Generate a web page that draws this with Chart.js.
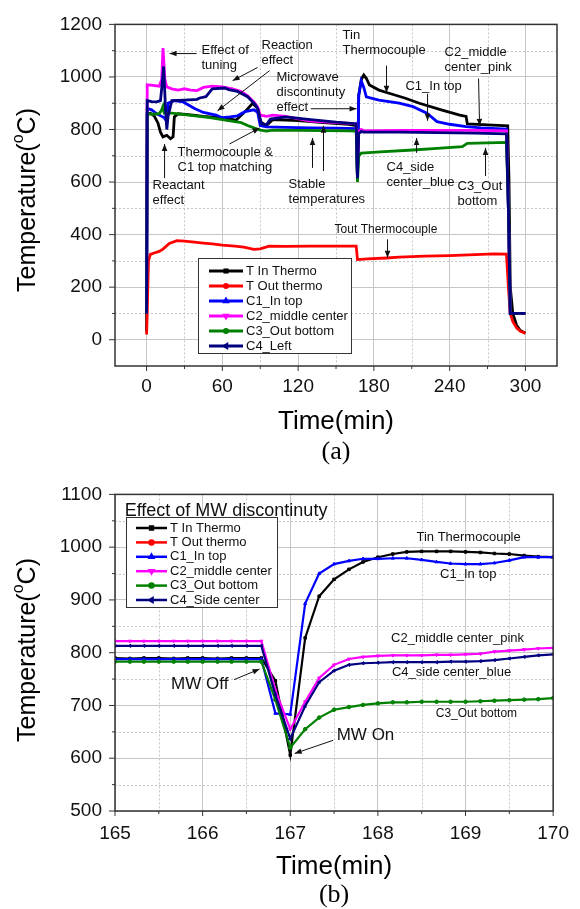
<!DOCTYPE html>
<html>
<head>
<meta charset="utf-8">
<script src="https://cdn.jsdelivr.net/npm/chart.js@4.4.0/dist/chart.umd.min.js"></script>
<style>
  body { margin: 0; background: #fff; width: 580px; height: 909px; overflow: hidden; position: relative; }
  canvas { position: absolute; left: 0; }
  #chartA { top: 0; }
  #chartB { top: 470px; }
</style>
</head>
<body>
<canvas id="chartA" width="580" height="470"></canvas>
<canvas id="chartB" width="580" height="439"></canvas>
<script>
// ---- series names / colours ----
const namesA = ['T In Thermo', 'T Out thermo', 'C1_In top', 'C2_middle center', 'C3_Out bottom', 'C4_Left'];
const namesB = ['T In Thermo', 'T Out thermo', 'C1_In top', 'C2_middle center', 'C3_Out bottom', 'C4_Side center'];
const colors = ['#000000', '#ff0000', '#0000ff', '#ff00ff', '#008000', '#000080'];

// ---- (a) full run, [time(min), temperature] ----
const inThermoA = [[0,30],[0.5,860],[3,862],[6,852],[9,825],[11,790],[13,772],[16,778],[19,765],[21,772],[22,848],[25,860],[35,856],[45,850],[55,846],[65,840],[71,836],[78,868],[84,900],[88,880],[90,830],[95,815],[100,838],[120,834],[140,826],[160,820],[166,815],[167,610],[168,930],[170,990],[172,1007],[174,995],[176.5,969],[184,950],[192,938],[205,919],[216,900],[234,874],[248,855],[253,850],[254,821],[270,818],[286,814],[287,600],[288,200],[290,100],[293,55],[296,35],[300,25]];
const outThermoA = [[0,20],[0.5,100],[1.5,300],[3,325],[6,330],[10,336],[13,345],[18,366],[24,377],[30,375],[36,372],[45,368],[52,365],[60,360],[70,356],[77,352],[85,344],[90,346],[97,356],[110,355],[130,356],[150,356],[166,356],[167,305],[175,308],[190,311],[200,314],[220,318],[240,320],[260,324],[275,327],[285,326],[286.5,200],[288,100],[290,70],[293,45],[296,32],[300,25]];
const c1A = [[0,100],[0.5,880],[4,875],[8,860],[12,850],[14,845],[16,830],[17,900],[22,910],[29,905],[38,880],[45,865],[55,855],[60,845],[66,848],[72,852],[78,868],[85,875],[88,865],[90,815],[95,810],[110,808],[130,806],[150,805],[166,803],[167,620],[168,930],[170,985],[172,960],[174,924],[184,912],[200,900],[211,887],[222,862],[230,830],[240,820],[253,811],[265,806],[285,802],[286.5,500],[288,100],[300,100]];
const c2A = [[0,100],[0.5,970],[5,968],[10,965],[12,990],[13,1110],[14.5,990],[16,962],[20,955],[25,950],[30,955],[35,950],[40,948],[45,960],[52,965],[60,962],[68,955],[75,945],[80,928],[85,905],[88,885],[90,855],[95,850],[100,855],[110,850],[130,832],[150,826],[166,822],[167,640],[168,792],[170,800],[172,795],[200,797],[230,797],[260,797],[285,795],[286.5,500],[288,100],[300,100]];
const c3A = [[0,100],[0.5,860],[5,858],[10,860],[12,875],[13,888],[14,862],[20,862],[30,857],[40,851],[50,845],[60,838],[70,830],[75,826],[80,815],[85,806],[90,798],[95,794],[100,798],[120,797],[140,796],[160,795],[166,794],[167,600],[168,700],[170,710],[185,715],[211,722],[230,728],[250,735],[254,747],[270,749],[285,751],[286.5,500],[288,100],[300,100]];
const c4A = [[0,100],[0.5,910],[4,906],[8,905],[11,910],[12.5,980],[13.5,1040],[15,880],[16,800],[17,850],[19,890],[20,910],[30,912],[40,915],[42,920],[47,925],[52,955],[62,958],[65,952],[72,945],[80,925],[86,895],[88,880],[91,822],[95,818],[98,840],[110,848],[130,838],[150,828],[166,822],[167,615],[168,785],[170,792],[172,790],[200,790],[230,788],[260,786],[285,783],[286.5,500],[288,100],[300,100]];

// ---- (b) zoom on MW discontinuity ----
const timeB = [165.00,165.17,165.33,165.50,165.67,165.83,166.00,166.17,166.33,166.50,166.67,166.83,167.00,167.17,167.33,167.50,167.67,167.83,168.00,168.17,168.33,168.50,168.67,168.83,169.00,169.17,169.33,169.50,169.67,169.83,170.00];
const inThermoB = [790,789,790,790,789,790,790,789,790,790,790,747,606,828,907,939,958,972,981,987,991,992,992,992,991,990,988,987,984,982,981];
const outThermoB = [356,356,356,356,356,356,356,356,356,356,356,330,306,305,306,306,307,307,307,308,308,308,308,309,309,309,310,310,310,311,311];
const c1B = [788,788,788,788,788,788,788,788,788,788,788,685,683,893,950,968,974,978,978,979,979,976,972,969,968,968,970,975,981,981,981];
const c2B = [822,822,822,822,822,822,822,822,822,822,822,729,655,707,752,777,788,792,794,795,795,795,796,796,797,798,802,804,806,808,809];
const c3B = [783,783,783,783,783,783,783,783,783,783,783,711,620,655,677,692,697,701,704,706,706,707,707,707,707,708,709,710,711,712,714];
const c4B = [813,813,813,813,813,813,813,813,813,813,813,720,637,699,744,766,777,780,781,782,782,782,782,783,783,784,786,789,792,795,797];

const markers = [['rect',0],['circle',0],['triangle',0],['triangle',180],['circle',0],['triangle',-90]];

// ---- annotations (data coordinates) ----
const notesA = [
  { lines: ['Effect of', 'tuning'], t: 43.5, v: 1101, arrows: [[39.6,1089,18.2,1089]] },
  { lines: ['Reaction', 'effect'], t: 91, v: 1120, arrows: [[87.9,1036,68.1,986],[97.4,1024,56.2,871]] },
  { lines: ['Microwave', 'discontinuty', 'effect'], t: 102.9, v: 998, arrows: [[130,879,166.3,879]] },
  { lines: ['Thermocouple &', 'C1 top matching'], t: 24.5, v: 711, arrows: [[65.7,745,89.5,806]] },
  { lines: ['Reactant', 'effect'], t: 4.75, v: 589, arrows: [[14.25,615,14.25,745]] },
  { lines: ['Tin', 'Thermocouple'], t: 155.2, v: 1158, arrows: [[190,1043,190,940]] },
  { lines: ['C2_middle', 'center_pink'], t: 236, v: 1093, arrows: [[262.9,994,263.7,814]] },
  { lines: ['C1_In top'], t: 205, v: 963, arrows: [[222.5,936,222.5,833]] },
  { lines: ['Stable', 'temperatures'], t: 112.4, v: 592, arrows: [[131.4,654,131.4,768],[140.1,642,140.1,814]] },
  { lines: ['C4_side', 'center_blue'], t: 190, v: 657, arrows: [[213.8,711,213.8,768]] },
  { lines: ['C3_Out', 'bottom'], t: 246.2, v: 585, arrows: [[268.4,623,268.4,730]] },
  { lines: ['Tout Thermocouple'], t: 148.9, v: 417, size: 12, arrows: [[190.8,382,190.8,312]] }
];
const notesB = [
  { lines: ['Effect of MW discontinuty'], t: 165.11, v: 1069, size: 18, arrows: [] },
  { lines: ['Tin Thermocouple'], t: 168.44, v: 1018, arrows: [] },
  { lines: ['C1_In top'], t: 168.71, v: 948, arrows: [] },
  { lines: ['C2_middle center_pink'], t: 168.15, v: 828, arrows: [] },
  { lines: ['C4_side center_blue'], t: 168.16, v: 762, arrows: [] },
  { lines: ['C3_Out bottom'], t: 168.66, v: 684, size: 12, arrows: [] },
  { lines: ['MW Off'], t: 165.64, v: 740, size: 17, arrows: [[166.36,749,166.65,769]] },
  { lines: ['MW On'], t: 167.53, v: 644, size: 17, arrows: [[167.49,634,167.05,609]] }
];

const SANS = '"Liberation Sans", Arial, sans-serif';

function arrow(ctx, x1, y1, x2, y2) {
  ctx.beginPath(); ctx.moveTo(x1, y1); ctx.lineTo(x2, y2); ctx.stroke();
  const a = Math.atan2(y2 - y1, x2 - x1), L = 7, W = 2.8;
  ctx.beginPath();
  ctx.moveTo(x2, y2);
  ctx.lineTo(x2 - L * Math.cos(a) + W * Math.sin(a), y2 - L * Math.sin(a) - W * Math.cos(a));
  ctx.lineTo(x2 - L * Math.cos(a) - W * Math.sin(a), y2 - L * Math.sin(a) + W * Math.cos(a));
  ctx.closePath(); ctx.fill();
}

function yTitle(ctx, cx, cy, size) {
  ctx.save();
  ctx.translate(cx, cy); ctx.rotate(-Math.PI / 2);
  const f = size + 'px ' + SANS, fs = Math.round(size * 0.62) + 'px ' + SANS;
  ctx.font = f;
  const w1 = ctx.measureText('Temperature(').width, w3 = ctx.measureText('C)').width;
  ctx.font = fs;
  const w2 = ctx.measureText('o').width;
  let x = -(w1 + w2 + w3) / 2;
  const base = size * 0.36;
  ctx.textAlign = 'left'; ctx.textBaseline = 'alphabetic'; ctx.fillStyle = '#000';
  ctx.font = f; ctx.fillText('Temperature(', x, base); x += w1;
  ctx.font = fs; ctx.fillText('o', x, base - size * 0.5); x += w2;
  ctx.font = f; ctx.fillText('C)', x, base);
  ctx.restore();
}

const decor = {
  id: 'decor',
  beforeDatasetsDraw(chart, args, o) {
    const { ctx, chartArea: a, scales: { x, y } } = chart;
    ctx.save();
    ctx.strokeStyle = '#c6c6c6'; ctx.lineWidth = 1; ctx.setLineDash([2, 2]);
    o.xMinor.forEach(v => {
      const px = Math.round(x.getPixelForValue(v)) + 0.5;
      ctx.beginPath(); ctx.moveTo(px, a.top); ctx.lineTo(px, a.bottom); ctx.stroke();
    });
    o.yMinor.forEach(v => {
      const py = Math.round(y.getPixelForValue(v)) + 0.5;
      ctx.beginPath(); ctx.moveTo(a.left, py); ctx.lineTo(a.right, py); ctx.stroke();
    });
    ctx.restore();
  },
  afterDatasetsDraw(chart, args, o) {
    const { ctx, chartArea: a, scales: { x, y } } = chart;
    ctx.save();
    // frame + outward ticks
    ctx.strokeStyle = '#333'; ctx.lineWidth = 1.5;
    ctx.strokeRect(a.left, a.top, a.right - a.left, a.bottom - a.top);
    ctx.lineWidth = 1;
    x.ticks.forEach(t => { const px = x.getPixelForValue(t.value); ctx.beginPath(); ctx.moveTo(px, a.bottom); ctx.lineTo(px, a.bottom + 5); ctx.stroke(); });
    o.xMinor.forEach(v => { const px = x.getPixelForValue(v); ctx.beginPath(); ctx.moveTo(px, a.bottom); ctx.lineTo(px, a.bottom + 3); ctx.stroke(); });
    y.ticks.forEach(t => { const py = y.getPixelForValue(t.value); ctx.beginPath(); ctx.moveTo(a.left - 6, py); ctx.lineTo(a.left, py); ctx.stroke(); });
    o.yMinor.forEach(v => { const py = y.getPixelForValue(v); ctx.beginPath(); ctx.moveTo(a.left - 3, py); ctx.lineTo(a.left, py); ctx.stroke(); });

    // annotations
    ctx.fillStyle = '#111'; ctx.strokeStyle = '#111'; ctx.lineWidth = 1;
    ctx.textAlign = 'left'; ctx.textBaseline = 'middle';
    o.notes.forEach(n => {
      ctx.font = (n.size || 13) + 'px ' + SANS;
      const px = x.getPixelForValue(n.t), py = y.getPixelForValue(n.v);
      n.lines.forEach((s, i) => ctx.fillText(s, px, py + i * 15));
      n.arrows.forEach(r => arrow(ctx, x.getPixelForValue(r[0]), y.getPixelForValue(r[1]), x.getPixelForValue(r[2]), y.getPixelForValue(r[3])));
    });

    // legend box
    const L = o.legend;
    ctx.fillStyle = '#fff'; ctx.fillRect(L.x, L.y, L.w, L.h);
    ctx.strokeStyle = '#333'; ctx.lineWidth = 1; ctx.strokeRect(L.x + 0.5, L.y + 0.5, L.w, L.h);
    ctx.font = L.font + 'px ' + SANS; ctx.textBaseline = 'middle';
    chart.data.datasets.forEach((d, i) => {
      const ry = L.y + L.first + i * L.row;
      ctx.strokeStyle = d.borderColor; ctx.lineWidth = L.lw;
      ctx.beginPath(); ctx.moveTo(L.x1, ry); ctx.lineTo(L.x2, ry); ctx.stroke();
      if (Chart.helpers && Chart.helpers.drawPoint) {
        ctx.fillStyle = d.borderColor;
        Chart.helpers.drawPoint(ctx, { pointStyle: markers[i][0], rotation: markers[i][1], radius: L.mr, borderWidth: 1 }, (L.x1 + L.x2) / 2, ry);
        ctx.fill();
      }
      ctx.fillStyle = '#111';
      ctx.fillText(d.label, L.tx, ry);
    });

    // titles
    yTitle(ctx, o.yTitle[0], o.yTitle[1], 25);
    ctx.fillStyle = '#000'; ctx.textAlign = 'center'; ctx.textBaseline = 'middle';
    ctx.font = '26px ' + SANS;
    ctx.fillText('Time(min)', (a.left + a.right) / 2, o.xTitleY);
    ctx.font = '26px "Liberation Serif", "Times New Roman", serif';
    ctx.fillText(o.caption, (a.left + a.right) / 2, o.captionY);
    ctx.restore();
  }
};

const toXY = arr => arr.map(p => ({ x: p[0], y: p[1] }));
const zipXY = (xs, ys) => xs.map((t, i) => ({ x: t, y: ys[i] }));

function axisBase(fontSize) {
  return {
    type: 'linear',
    grid: { color: '#c6c6c6', lineWidth: 1, drawTicks: false },
    border: { display: false },
    ticks: { color: '#111', font: { family: SANS, size: fontSize }, includeBounds: false, maxRotation: 0,
             callback: v => String(v) }
  };
}

// ---- chart (a) ----
const seriesA = [inThermoA, outThermoA, c1A, c2A, c3A, c4A];
const xA = axisBase(19), yA = axisBase(19);
Object.assign(xA, { min: -25, max: 325, afterFit: s => { s.height = 104; } });
xA.ticks.stepSize = 60; xA.ticks.padding = 9;
Object.assign(yA, { min: -100, max: 1200, afterFit: s => { s.width = 115; } });
yA.ticks.stepSize = 200; yA.ticks.padding = 13;

new Chart(document.getElementById('chartA'), {
  type: 'line',
  data: {
    datasets: seriesA.map((s, i) => ({
      label: namesA[i], data: toXY(s), borderColor: colors[i], backgroundColor: colors[i],
      borderWidth: 2.8, pointRadius: 0, tension: 0, order: 5 - i
    }))
  },
  options: {
    responsive: false, animation: false, parsing: false,
    layout: { padding: { top: 24, right: 23, left: 0, bottom: 0 } },
    scales: { x: xA, y: yA },
    plugins: {
      legend: { display: false }, tooltip: { enabled: false },
      decor: {
        xMinor: [30, 90, 150, 210, 270], yMinor: [100, 300, 500, 700, 900, 1100],
        notes: notesA,
        legend: { x: 198, y: 258, w: 153, h: 95, first: 13, row: 15, x1: 209, x2: 243, tx: 246, font: 13, lw: 3, mr: 1.5 },
        yTitle: [26, 200], xTitleY: 422, caption: '(a)', captionY: 452
      }
    }
  },
  plugins: [decor]
});

// ---- chart (b) ----
const seriesB = [inThermoB, outThermoB, c1B, c2B, c3B, c4B];
const xB = axisBase(19), yB = axisBase(19);
Object.assign(xB, { min: 165, max: 170, afterFit: s => { s.height = 98; } });
xB.ticks.stepSize = 1; xB.ticks.padding = 11;
Object.assign(yB, { min: 500, max: 1100, afterFit: s => { s.width = 115; } });
yB.ticks.stepSize = 100; yB.ticks.padding = 13;

new Chart(document.getElementById('chartB'), {
  type: 'line',
  data: {
    datasets: seriesB.map((s, i) => ({
      label: namesB[i], data: zipXY(timeB, s), borderColor: colors[i], backgroundColor: colors[i],
      borderWidth: 2.2, pointRadius: 1.8, pointStyle: markers[i][0], rotation: markers[i][1],
      pointBorderWidth: 1, tension: 0, order: 5 - i
    }))
  },
  options: {
    responsive: false, animation: false, parsing: false,
    layout: { padding: { top: 16, right: 17, left: 0, bottom: 0 } },
    scales: { x: xB, y: yB },
    plugins: {
      legend: { display: false }, tooltip: { enabled: false },
      decor: {
        xMinor: [165.5, 166.5, 167.5, 168.5, 169.5], yMinor: [550, 650, 750, 850, 950, 1050],
        notes: notesB,
        legend: { x: 126, y: 47, w: 151, h: 90, first: 11, row: 14.4, x1: 136, x2: 167, tx: 170, font: 13, lw: 2.5, mr: 2 },
        yTitle: [26, 180], xTitleY: 397, caption: '(b)', captionY: 425
      }
    }
  },
  plugins: [decor]
});
</script>
</body>
</html>
